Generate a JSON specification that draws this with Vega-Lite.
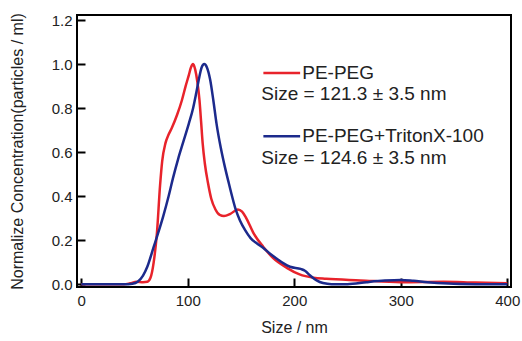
{
  "$schema": "https://vega.github.io/schema/vega-lite/v6.json",
  "autosize": {"type": "none"},
  "width": 434,
  "height": 272,
  "padding": {"left": 77, "top": 15, "right": 11, "bottom": 54},
  "background": "white",
  "config": {
    "font": "Liberation Sans",
    "view": {"stroke": "black", "strokeWidth": 2},
    "axis": {"domain": false, "grid": false, "tickColor": "black", "tickWidth": 2, "labelColor": "#222", "titleColor": "#222", "labelFont": "Liberation Sans", "titleFont": "Liberation Sans", "titleFontWeight": "normal"}
  },
  "datasets": {
    "curves": [
      {"series": "PE-PEG", "size": 0, "conc": 0},
      {"series": "PE-PEG", "size": 40, "conc": 0},
      {"series": "PE-PEG", "size": 46, "conc": 0.005},
      {"series": "PE-PEG", "size": 52, "conc": 0.012},
      {"series": "PE-PEG", "size": 58, "conc": 0.01},
      {"series": "PE-PEG", "size": 62, "conc": 0.012},
      {"series": "PE-PEG", "size": 65, "conc": 0.03},
      {"series": "PE-PEG", "size": 68, "conc": 0.1},
      {"series": "PE-PEG", "size": 71, "conc": 0.23},
      {"series": "PE-PEG", "size": 74, "conc": 0.45},
      {"series": "PE-PEG", "size": 76, "conc": 0.56},
      {"series": "PE-PEG", "size": 79, "conc": 0.64},
      {"series": "PE-PEG", "size": 82, "conc": 0.68},
      {"series": "PE-PEG", "size": 85, "conc": 0.71},
      {"series": "PE-PEG", "size": 90, "conc": 0.77},
      {"series": "PE-PEG", "size": 94.5, "conc": 0.836},
      {"series": "PE-PEG", "size": 98, "conc": 0.9},
      {"series": "PE-PEG", "size": 101, "conc": 0.95},
      {"series": "PE-PEG", "size": 103, "conc": 0.985},
      {"series": "PE-PEG", "size": 105, "conc": 1.0},
      {"series": "PE-PEG", "size": 107, "conc": 0.975},
      {"series": "PE-PEG", "size": 109, "conc": 0.92},
      {"series": "PE-PEG", "size": 111, "conc": 0.836},
      {"series": "PE-PEG", "size": 112.5, "conc": 0.74},
      {"series": "PE-PEG", "size": 114, "conc": 0.64},
      {"series": "PE-PEG", "size": 116, "conc": 0.55},
      {"series": "PE-PEG", "size": 119, "conc": 0.46},
      {"series": "PE-PEG", "size": 122, "conc": 0.39},
      {"series": "PE-PEG", "size": 126, "conc": 0.34},
      {"series": "PE-PEG", "size": 130, "conc": 0.315},
      {"series": "PE-PEG", "size": 134, "conc": 0.31},
      {"series": "PE-PEG", "size": 140, "conc": 0.32},
      {"series": "PE-PEG", "size": 147, "conc": 0.34},
      {"series": "PE-PEG", "size": 151, "conc": 0.33},
      {"series": "PE-PEG", "size": 155, "conc": 0.3},
      {"series": "PE-PEG", "size": 162, "conc": 0.23},
      {"series": "PE-PEG", "size": 171, "conc": 0.17},
      {"series": "PE-PEG", "size": 180, "conc": 0.12},
      {"series": "PE-PEG", "size": 193, "conc": 0.075},
      {"series": "PE-PEG", "size": 205, "conc": 0.045},
      {"series": "PE-PEG", "size": 218, "conc": 0.03},
      {"series": "PE-PEG", "size": 230, "conc": 0.025},
      {"series": "PE-PEG", "size": 262, "conc": 0.018},
      {"series": "PE-PEG", "size": 300, "conc": 0.01},
      {"series": "PE-PEG", "size": 340, "conc": 0.012},
      {"series": "PE-PEG", "size": 370, "conc": 0.008},
      {"series": "PE-PEG", "size": 400, "conc": 0.005},
      {"series": "PE-PEG+TritonX-100", "size": 0, "conc": 0},
      {"series": "PE-PEG+TritonX-100", "size": 40, "conc": 0},
      {"series": "PE-PEG+TritonX-100", "size": 48, "conc": 0.003},
      {"series": "PE-PEG+TritonX-100", "size": 53, "conc": 0.012},
      {"series": "PE-PEG+TritonX-100", "size": 58, "conc": 0.04},
      {"series": "PE-PEG+TritonX-100", "size": 62, "conc": 0.08},
      {"series": "PE-PEG+TritonX-100", "size": 68, "conc": 0.17},
      {"series": "PE-PEG+TritonX-100", "size": 72, "conc": 0.23},
      {"series": "PE-PEG+TritonX-100", "size": 77, "conc": 0.31},
      {"series": "PE-PEG+TritonX-100", "size": 82, "conc": 0.4},
      {"series": "PE-PEG+TritonX-100", "size": 86, "conc": 0.48},
      {"series": "PE-PEG+TritonX-100", "size": 91, "conc": 0.57},
      {"series": "PE-PEG+TritonX-100", "size": 96, "conc": 0.65},
      {"series": "PE-PEG+TritonX-100", "size": 101, "conc": 0.73},
      {"series": "PE-PEG+TritonX-100", "size": 105, "conc": 0.8},
      {"series": "PE-PEG+TritonX-100", "size": 108, "conc": 0.87},
      {"series": "PE-PEG+TritonX-100", "size": 111, "conc": 0.945},
      {"series": "PE-PEG+TritonX-100", "size": 113, "conc": 0.985},
      {"series": "PE-PEG+TritonX-100", "size": 115.5, "conc": 1.0},
      {"series": "PE-PEG+TritonX-100", "size": 118, "conc": 0.985},
      {"series": "PE-PEG+TritonX-100", "size": 121, "conc": 0.93},
      {"series": "PE-PEG+TritonX-100", "size": 124, "conc": 0.836},
      {"series": "PE-PEG+TritonX-100", "size": 127, "conc": 0.73},
      {"series": "PE-PEG+TritonX-100", "size": 131, "conc": 0.62},
      {"series": "PE-PEG+TritonX-100", "size": 135, "conc": 0.53},
      {"series": "PE-PEG+TritonX-100", "size": 138, "conc": 0.47},
      {"series": "PE-PEG+TritonX-100", "size": 141.6, "conc": 0.4},
      {"series": "PE-PEG+TritonX-100", "size": 145, "conc": 0.34},
      {"series": "PE-PEG+TritonX-100", "size": 149, "conc": 0.29},
      {"series": "PE-PEG+TritonX-100", "size": 154, "conc": 0.245},
      {"series": "PE-PEG+TritonX-100", "size": 159, "conc": 0.21},
      {"series": "PE-PEG+TritonX-100", "size": 165, "conc": 0.185},
      {"series": "PE-PEG+TritonX-100", "size": 171, "conc": 0.165},
      {"series": "PE-PEG+TritonX-100", "size": 177, "conc": 0.14},
      {"series": "PE-PEG+TritonX-100", "size": 184, "conc": 0.115},
      {"series": "PE-PEG+TritonX-100", "size": 190, "conc": 0.095},
      {"series": "PE-PEG+TritonX-100", "size": 196, "conc": 0.08},
      {"series": "PE-PEG+TritonX-100", "size": 206, "conc": 0.07},
      {"series": "PE-PEG+TritonX-100", "size": 210, "conc": 0.062},
      {"series": "PE-PEG+TritonX-100", "size": 215, "conc": 0.04},
      {"series": "PE-PEG+TritonX-100", "size": 221, "conc": 0.018},
      {"series": "PE-PEG+TritonX-100", "size": 227, "conc": 0.006},
      {"series": "PE-PEG+TritonX-100", "size": 235, "conc": 0.001},
      {"series": "PE-PEG+TritonX-100", "size": 250, "conc": 0.001},
      {"series": "PE-PEG+TritonX-100", "size": 268, "conc": 0.01},
      {"series": "PE-PEG+TritonX-100", "size": 285, "conc": 0.017},
      {"series": "PE-PEG+TritonX-100", "size": 300, "conc": 0.02},
      {"series": "PE-PEG+TritonX-100", "size": 312, "conc": 0.016},
      {"series": "PE-PEG+TritonX-100", "size": 325, "conc": 0.01},
      {"series": "PE-PEG+TritonX-100", "size": 345, "conc": 0.004},
      {"series": "PE-PEG+TritonX-100", "size": 370, "conc": 0.001},
      {"series": "PE-PEG+TritonX-100", "size": 400, "conc": 0}
    ],
    "one": [{}]
  },
  "layer": [
    {
      "data": {"name": "curves"},
      "mark": {"type": "line", "interpolate": "monotone", "strokeWidth": 2.5, "clip": true},
      "encoding": {
        "x": {
          "field": "size", "type": "quantitative",
          "scale": {"domain": [-4, 403.5], "nice": false, "zero": false},
          "axis": {"title": "Size / nm", "values": [0, 100, 200, 300, 400], "tickSize": -9, "labelFontSize": 15, "titleFontSize": 16, "labelPadding": 15, "titlePadding": 11}
        },
        "y": {
          "field": "conc", "type": "quantitative",
          "scale": {"domain": [-0.012, 1.223], "nice": false, "zero": false},
          "axis": {"title": "Normalize Concentration(particles / ml)", "values": [0, 0.2, 0.4, 0.6, 0.8, 1.0, 1.2], "format": ".1f", "tickSize": -8, "labelFontSize": 15, "titleFontSize": 16, "labelPadding": 13, "titlePadding": 26}
        },
        "color": {
          "field": "series", "type": "nominal",
          "scale": {"domain": ["PE-PEG", "PE-PEG+TritonX-100"], "range": ["#e8232b", "#1c2a8c"]},
          "legend": null
        },
        "detail": {"field": "series"}
      }
    },
    {
      "data": {"name": "one"},
      "mark": {"type": "rule", "strokeWidth": 2.5, "color": "#e8232b"},
      "encoding": {"x": {"datum": 171}, "x2": {"datum": 205.5}, "y": {"datum": 0.96}}
    },
    {
      "data": {"name": "one"},
      "mark": {"type": "rule", "strokeWidth": 2.5, "color": "#1c2a8c"},
      "encoding": {"x": {"datum": 171}, "x2": {"datum": 205.5}, "y": {"datum": 0.673}}
    },
    {
      "data": {"name": "one"},
      "mark": {"type": "text", "align": "left", "baseline": "middle", "fontSize": 19, "color": "#222", "text": "PE-PEG"},
      "encoding": {"x": {"datum": 207.5}, "y": {"datum": 0.96}}
    },
    {
      "data": {"name": "one"},
      "mark": {"type": "text", "align": "left", "baseline": "middle", "fontSize": 19, "color": "#222", "text": "Size = 121.3 ± 3.5 nm"},
      "encoding": {"x": {"datum": 169}, "y": {"datum": 0.864}}
    },
    {
      "data": {"name": "one"},
      "mark": {"type": "text", "align": "left", "baseline": "middle", "fontSize": 19, "color": "#222", "text": "PE-PEG+TritonX-100"},
      "encoding": {"x": {"datum": 207.5}, "y": {"datum": 0.673}}
    },
    {
      "data": {"name": "one"},
      "mark": {"type": "text", "align": "left", "baseline": "middle", "fontSize": 19, "color": "#222", "text": "Size = 124.6 ± 3.5 nm"},
      "encoding": {"x": {"datum": 169}, "y": {"datum": 0.573}}
    }
  ]
}
